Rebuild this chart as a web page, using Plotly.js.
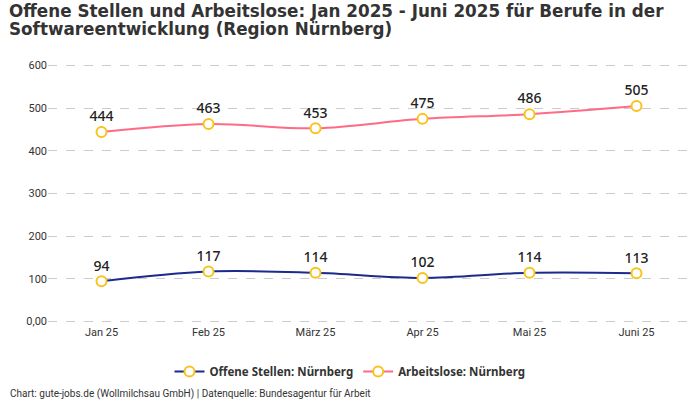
<!DOCTYPE html>
<html><head><meta charset="utf-8">
<script src="https://cdn.plot.ly/plotly-3.0.1.min.js"></script>
<style>body{margin:0;}#c{width:700px;height:400px;}</style>
</head><body><div id="c"></div>
<script>
const months = ["Jan 25","Feb 25","März 25","Apr 25","Mai 25","Juni 25"];
const offeneStellen = [94,117,114,102,114,113];
const arbeitslose = [444,463,453,475,486,505];
const yTicks = [0,100,200,300,400,500,600];
const yTickLabels = ["0,00","100","200","300","400","500","600"];
const titleLines = ["Offene Stellen und Arbeitslose: Jan 2025 - Juni 2025 für Berufe in der","Softwareentwicklung (Region Nürnberg)"];
const footer = "Chart: gute-jobs.de (Wollmilchsau GmbH) | Datenquelle: Bundesagentur für Arbeit";

function tr(name, y, color){
  return {x: months, y: y, name: name, type:"scatter", mode:"lines+markers+text",
    line:{color:color, width:2, shape:"spline", smoothing:1},
    marker:{size:10, color:"#ffffff", line:{color:"#f8c31c", width:2}},
    text: y.map(String), textposition:"top center",
    textfont:{family:"Noto Sans, sans-serif", size:14, color:"#222", weight:500},
    cliponaxis:false};
}
const data=[tr("Offene Stellen: Nürnberg", offeneStellen, "#1b2a8c"), tr("Arbeitslose: Nürnberg", arbeitslose, "#ff6b85")];
const L=48,T=63,B=76,W=700-48-10,H=400-63-76;
const px=x=>(x-L)/W, py=y=>(400-B-y)/H;
const tf={family:"DejaVu Sans, sans-serif",size:16.8,color:"#333",weight:"bold"};
const layout={
  width:700,height:400,
  margin:{l:L,r:10,t:T,b:B},
  paper_bgcolor:"#fff",plot_bgcolor:"#fff",
  xaxis:{type:"category",range:[-0.5,5.5],showgrid:false,zeroline:false,showline:false,
    ticks:"",tickfont:{family:"Roboto, sans-serif",size:11,color:"#333"}},
  yaxis:{range:[-6,606],tickvals:yTicks,ticktext:yTickLabels,showgrid:true,gridcolor:"#cccccc",griddash:"dash",
    zeroline:false,showline:false,ticks:"",tickfont:{family:"Roboto, sans-serif",size:11,color:"#333"}},
  showlegend:true,
  legend:{orientation:"h",x:px(350),xanchor:"center",y:py(357),yanchor:"top",
    font:{family:"Noto Sans, sans-serif",size:11.5,color:"#333",weight:"bold"}},
  annotations:[
   {text:titleLines[0],xref:"paper",yref:"paper",x:px(8),y:py(10.5),xanchor:"left",yanchor:"middle",borderpad:0,showarrow:false,font:tf},
   {text:titleLines[1],xref:"paper",yref:"paper",x:px(8),y:py(29),xanchor:"left",yanchor:"middle",borderpad:0,showarrow:false,font:tf},
   {text:footer,xref:"paper",yref:"paper",x:px(8),y:py(394),xanchor:"left",yanchor:"middle",showarrow:false,
    font:{family:"Roboto, sans-serif",size:10,color:"#333"}}]
};
Plotly.newPlot("c",data,layout,{displayModeBar:false});
</script></body></html>
